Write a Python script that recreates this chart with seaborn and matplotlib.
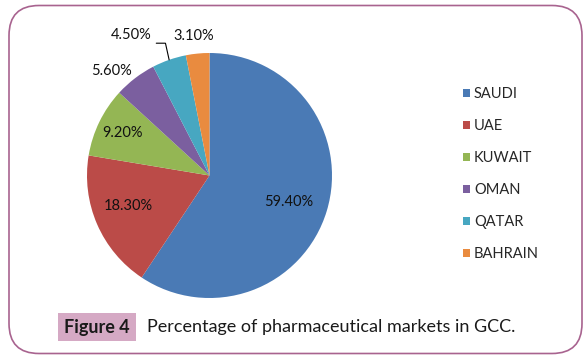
import numpy as np
import matplotlib
matplotlib.use("Agg")
import matplotlib.pyplot as plt
from matplotlib.patches import FancyBboxPatch, Rectangle
import seaborn as sns

# data
countries = ["SAUDI", "UAE", "KUWAIT", "OMAN", "QATAR", "BAHRAIN"]
shares = [59.4, 18.3, 9.2, 5.6, 4.5, 3.1]
share_labels = ["59.40%", "18.30%", "9.20%", "5.60%", "4.50%", "3.10%"]
caption_tag = "Figure 4"
caption_text = "Percentage of pharmaceutical markets in GCC."

colors = ["#4a7ab5", "#bb4b48", "#94b654", "#7b5f9f", "#47a7c1", "#e98b3f"]
# where each % label sits: radius and small angle shift (deg) from the wedge middle
label_r = [0.68, 0.71, 0.79, 1.17, 1.31, 1.15]
label_shift = [-2, -3, 0, 6, 10, 1]

sns.set_style("white")
plt.rcParams["font.family"] = ["Lato", "DejaVu Sans"]

fig = plt.figure(figsize=(5.88, 3.59), dpi=100)

# background layer in pixel units for frame and caption
bg = fig.add_axes([0, 0, 1, 1])
bg.set_xlim(0, 588)
bg.set_ylim(359, 0)
bg.axis("off")
bg.add_patch(FancyBboxPatch((9, 5.5), 573, 348, boxstyle="round,pad=0,rounding_size=30",
                            fill=False, edgecolor="#a8638f", linewidth=1.2))
bg.add_patch(Rectangle((58, 313), 78, 28, facecolor="#d5a9c4", edgecolor="none"))
bg.text(97, 327, caption_tag, fontsize=13, fontweight="bold", ha="center", va="center",
        color="#1a1a1a")
bg.text(147, 327, caption_text, fontsize=13, ha="left", va="center", color="#1a1a1a")

# pie: centre (209.5, 175.5) px, radius 122.5 px
ax = fig.add_axes([87 / 588, (359 - 298) / 359, 245 / 588, 245 / 359])
wedges, _ = ax.pie(shares, colors=colors, startangle=90, counterclock=False,
                   wedgeprops=dict(linewidth=0))
ax.set_xlim(-1, 1)
ax.set_ylim(-1, 1)
ax.set_aspect("equal")

for i, w in enumerate(wedges):
    mid = np.deg2rad((w.theta1 + w.theta2) / 2 + label_shift[i])
    x, y = label_r[i] * np.cos(mid), label_r[i] * np.sin(mid)
    ax.text(x, y, share_labels[i], fontsize=10.5, ha="center", va="center", color="#111111")

# leader line for QATAR label
w = wedges[4]
mid = np.deg2rad((w.theta1 + w.theta2) / 2)
ex, ey = np.cos(mid), np.sin(mid)
ax.plot([ex, ex - 0.03, ex - 0.105], [ey, 1.08, 1.08], color="black", lw=0.8,
        clip_on=False, solid_joinstyle="miter")

fig.legend(wedges, countries, loc="center left", bbox_to_anchor=(450 / 588, 1 - 174 / 359),
           frameon=False, fontsize=10.5, handlelength=0.5, handleheight=0.5,
           handletextpad=0.25, labelspacing=1.23)

fig.savefig("out.png", dpi=100)
